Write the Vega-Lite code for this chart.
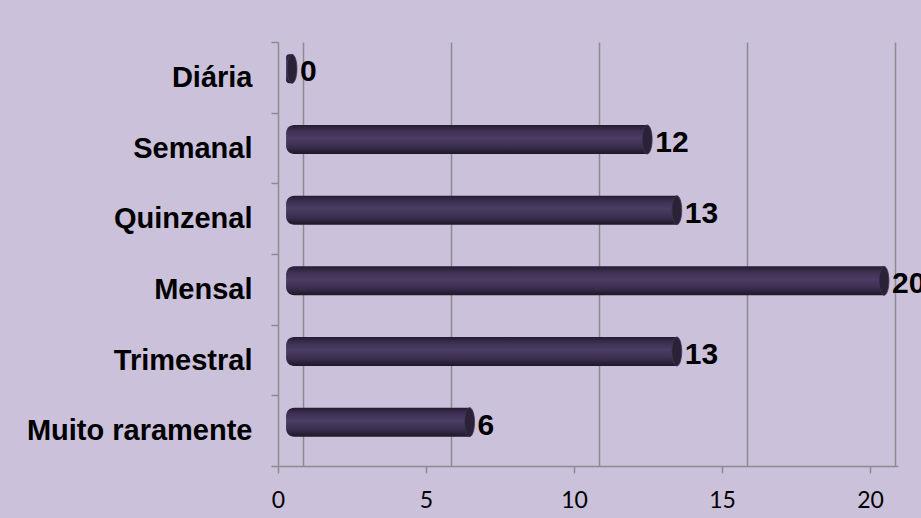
{
  "$schema": "https://vega.github.io/schema/vega-lite/v6.json",
  "width": 620,
  "height": 424,
  "autosize": {"type": "none"},
  "padding": {"left": 278, "top": 42, "right": 23, "bottom": 52},
  "background": "#cbc1db",
  "config": {"view": {"stroke": null}, "font": "Liberation Sans"},
  "data": {
    "values": [
      {"freq": "Diária", "n": 0},
      {"freq": "Semanal", "n": 12},
      {"freq": "Quinzenal", "n": 13},
      {"freq": "Mensal", "n": 20},
      {"freq": "Trimestral", "n": 13},
      {"freq": "Muito raramente", "n": 6}
    ]
  },
  "encoding": {
    "y": {
      "field": "freq",
      "type": "nominal",
      "sort": null,
      "scale": {"paddingInner": 0, "paddingOuter": 0},
      "axis": {
        "title": null,
        "domainColor": "#8c8c8c",
        "domainWidth": 1.5,
        "tickColor": "#8c8c8c",
        "tickWidth": 1.5,
        "tickSize": 7,
        "tickBand": "extent",
        "labelFont": "Liberation Sans",
        "labelFontSize": 29,
        "labelFontWeight": "bold",
        "labelColor": "#000000",
        "labelPadding": 19,
        "labelLimit": 400,
        "grid": false
      }
    }
  },
  "layer": [
    {
      "mark": {
        "type": "bar",
        "height": 29,
        "yOffset": -8.5,
        "cornerRadiusTopLeft": 8,
        "cornerRadiusBottomLeft": 8,
        "color": {
          "gradient": "linear",
          "x1": 0, "y1": 0, "x2": 0, "y2": 1,
          "stops": [
            {"offset": 0, "color": "#241b30"},
            {"offset": 0.2, "color": "#3d3052"},
            {"offset": 0.45, "color": "#4b3d64"},
            {"offset": 0.75, "color": "#3a2e4f"},
            {"offset": 1, "color": "#1e1728"}
          ]
        }
      },
      "encoding": {
        "x": {
          "field": "n",
          "type": "quantitative",
          "scale": {"domain": [-0.473, 20.473], "zero": false, "nice": false},
          "axis": {
            "orient": "bottom",
            "grid": true,
            "gridColor": "#8c8c8c",
            "gridWidth": 1.5,
            "tickOffset": 11,
            "ticks": false,
            "labels": false,
            "domain": false,
            "title": null,
            "values": [0, 5, 10, 15, 20]
          }
        },
        "x2": {"datum": -0.2}
      }
    },
    {
      "mark": {
        "type": "point",
        "shape": "M0,-1A0.34,1 0 1,1 0,1A0.34,1 0 1,1 0,-1Z",
        "size": 841,
        "filled": true,
        "opacity": 1,
        "color": "#2b2238",
        "stroke": "#41354f",
        "strokeWidth": 0.8,
        "yOffset": -8.5
      },
      "encoding": {
        "x": {"field": "n", "type": "quantitative", "axis": null}
      }
    },
    {
      "mark": {
        "type": "text",
        "align": "left",
        "baseline": "middle",
        "dx": 8,
        "yOffset": -5,
        "font": "Liberation Sans",
        "fontSize": 30,
        "fontWeight": "bold",
        "color": "#000000"
      },
      "encoding": {
        "x": {
          "field": "n",
          "type": "quantitative",
          "axis": {
            "orient": "bottom",
            "grid": false,
            "values": [0, 5, 10, 15, 20],
            "tickOffset": -14,
            "tickSize": 7,
            "tickColor": "#8c8c8c",
            "tickWidth": 1.5,
            "domainColor": "#8c8c8c",
            "domainWidth": 1.5,
            "labelFont": "Lato",
            "labelFontSize": 23,
            "labelColor": "#000000",
            "labelPadding": 16,
            "title": null
          }
        },
        "text": {"field": "n", "type": "quantitative"}
      }
    }
  ],
  "resolve": {"axis": {"x": "independent"}}
}
